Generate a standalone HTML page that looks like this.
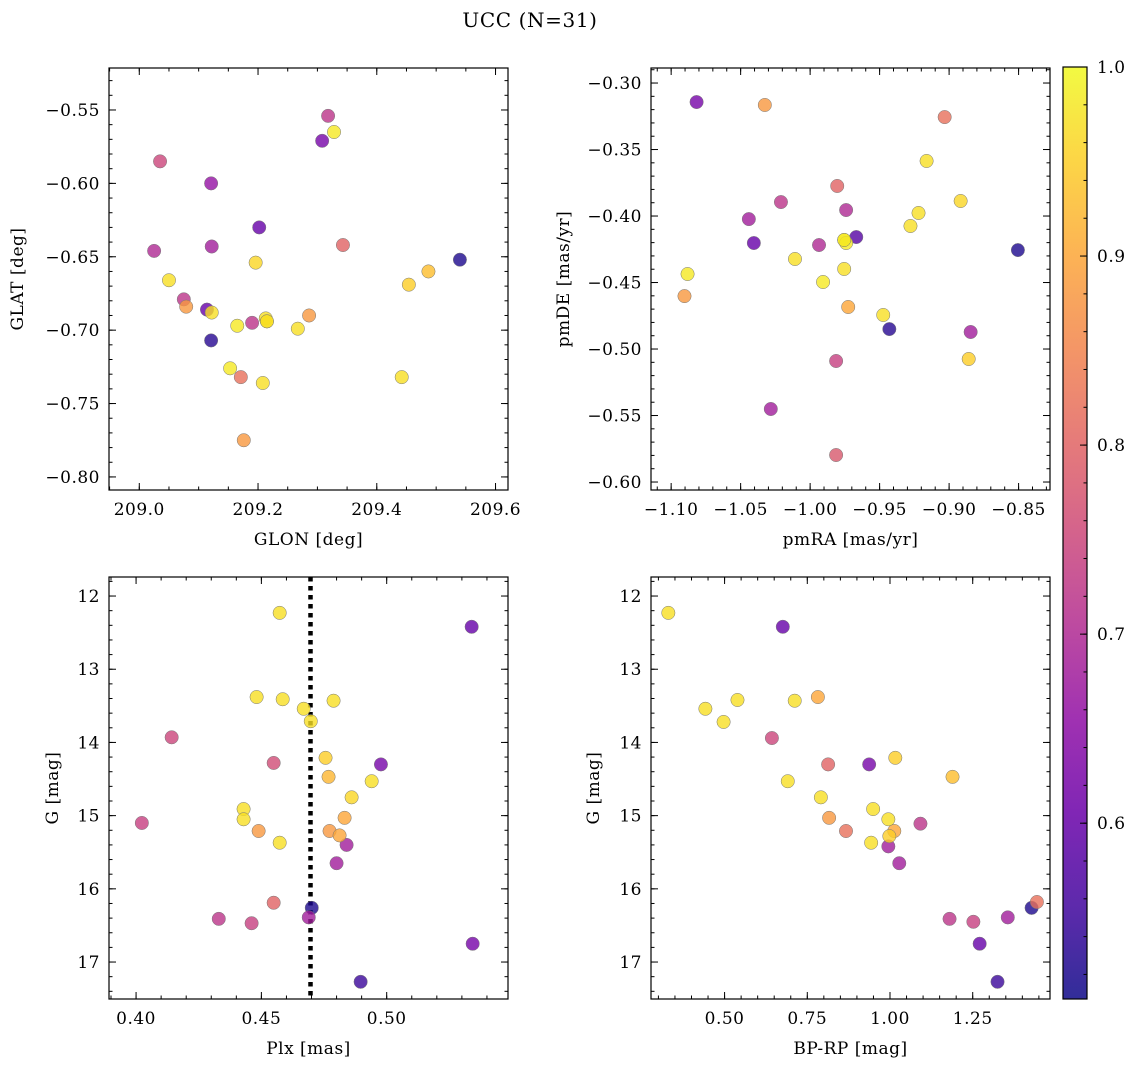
<!DOCTYPE html>
<html><head><meta charset="utf-8"><style>
html,body{margin:0;padding:0;background:#fff;}
svg{display:block;font-family:"DejaVu Serif","Liberation Serif",serif;}
</style></head><body>
<svg id="fig" width="1136" height="1067" viewBox="0 0 1136 1067" xmlns="http://www.w3.org/2000/svg">
<rect width="1136" height="1067" fill="#fff"/>
<text x="530" y="27" font-size="20" letter-spacing="0.6" text-anchor="middle">UCC (N=31)</text>
</svg>
<script>
// ---- data ----
const p1_glon = [209.318,209.328,209.308,209.035,209.121,209.202,209.122,209.343,209.540,209.025,209.050,209.196,209.454,209.487,209.075,209.114,209.079,209.122,209.286,209.213,209.215,209.165,209.190,209.267,209.121,209.153,209.171,209.442,209.208,209.176,209.215];
const p1_glat = [-0.554,-0.565,-0.571,-0.585,-0.600,-0.630,-0.643,-0.642,-0.652,-0.646,-0.666,-0.654,-0.669,-0.660,-0.679,-0.686,-0.684,-0.688,-0.690,-0.692,-0.694,-0.697,-0.695,-0.699,-0.707,-0.726,-0.732,-0.732,-0.736,-0.775,-0.694];
const p1_prob = [0.72,0.98,0.62,0.75,0.66,0.60,0.68,0.80,0.52,0.70,0.97,0.96,0.95,0.93,0.72,0.60,0.88,0.97,0.88,0.97,0.97,0.98,0.72,0.97,0.53,0.98,0.82,0.97,0.97,0.88,0.97];

const p2_pmra = [-1.0817,-1.0326,-0.9032,-0.9162,-0.9805,-0.8917,-1.0210,-0.9741,-0.9220,-1.0441,-0.9278,-1.0405,-0.9936,-0.9668,-0.9755,-0.9741,-1.0109,-1.0882,-0.9755,-0.8505,-0.9907,-1.0904,-0.9726,-0.9474,-0.9430,-0.8845,-0.8859,-0.9813,-1.0283,-0.9813,-0.9755];
const p2_pmde = [-0.3143,-0.3165,-0.3256,-0.3586,-0.3774,-0.3887,-0.3895,-0.3955,-0.3977,-0.4023,-0.4075,-0.4203,-0.4218,-0.4158,-0.4180,-0.4203,-0.4323,-0.4436,-0.4398,-0.4256,-0.4496,-0.4602,-0.4684,-0.4744,-0.4850,-0.4872,-0.5075,-0.5090,-0.5451,-0.5797,-0.4180];
const p2_prob = [0.62,0.88,0.82,0.97,0.80,0.96,0.72,0.70,0.97,0.68,0.97,0.60,0.70,0.58,0.98,0.98,0.97,0.98,0.97,0.52,0.98,0.88,0.90,0.97,0.53,0.68,0.95,0.74,0.68,0.78,0.98];

const p3_plx = [0.4573,0.5339,0.4481,0.4585,0.4788,0.4669,0.4697,0.4142,0.4756,0.4549,0.4977,0.4768,0.4940,0.4860,0.4429,0.4429,0.4832,0.4023,0.4489,0.4772,0.4812,0.4573,0.4840,0.4800,0.4549,0.4701,0.4330,0.4461,0.4689,0.5343,0.4896];
const p3_g = [12.23,12.42,13.38,13.41,13.43,13.54,13.71,13.93,14.21,14.28,14.30,14.47,14.53,14.75,14.91,15.05,15.03,15.10,15.21,15.21,15.27,15.37,15.40,15.65,16.19,16.26,16.41,16.47,16.39,16.75,17.27];
const p3_prob = [0.97,0.60,0.97,0.97,0.97,0.97,0.97,0.75,0.95,0.76,0.62,0.92,0.97,0.96,0.97,0.97,0.90,0.74,0.88,0.88,0.90,0.97,0.68,0.68,0.80,0.52,0.72,0.74,0.68,0.62,0.55];
const p3_plxLine = 0.4696;

const p4_bprp = [0.330,0.676,0.442,0.539,0.712,0.782,0.497,0.643,1.016,1.189,0.813,0.937,0.691,0.791,0.949,0.816,0.995,1.092,0.867,1.013,0.998,0.943,0.995,1.028,1.444,1.428,1.180,1.252,1.356,1.271,1.325];
const p4_g = [12.23,12.42,13.54,13.42,13.43,13.38,13.72,13.94,14.21,14.47,14.30,14.30,14.53,14.75,14.91,15.03,15.05,15.11,15.21,15.21,15.28,15.37,15.42,15.65,16.18,16.26,16.41,16.45,16.39,16.75,17.27];
const p4_prob = [0.97,0.60,0.97,0.97,0.97,0.90,0.97,0.75,0.95,0.93,0.80,0.62,0.97,0.97,0.97,0.88,0.97,0.72,0.82,0.90,0.95,0.97,0.68,0.68,0.82,0.52,0.72,0.74,0.68,0.60,0.55];

const p1_xticks = [209.0,209.2,209.4,209.6];
const p1_yticks = [-0.55,-0.60,-0.65,-0.70,-0.75,-0.80];
const p2_xticks = [-1.10,-1.05,-1.00,-0.95,-0.90,-0.85];
const p2_yticks = [-0.30,-0.35,-0.40,-0.45,-0.50,-0.55,-0.60];
const p3_xticks = [0.40,0.45,0.50];
const g_yticks = [12,13,14,15,16,17];
const p4_xticks = [0.50,0.75,1.00,1.25];
const cb_ticks = [0.6,0.7,0.8,0.9,1.0];
const vmin = 0.507, vmax = 1.0;

// ---- rendering ----
const NS = "http://www.w3.org/2000/svg";
const svg = document.getElementById('fig');
const FS = 17, LS = 0.5;
function mk(tag, attrs, parent){
  const e = document.createElementNS(NS, tag);
  for (const k in attrs) e.setAttribute(k, attrs[k]);
  (parent||svg).appendChild(e);
  return e;
}
const plasma = ['#0d0887','#41049d','#6a00a8','#8f0da4','#b12a90','#cc4778','#e16462','#f2844b','#fca636','#fcce25','#f0f921'];
function hex(h){return [parseInt(h.substr(1,2),16),parseInt(h.substr(3,2),16),parseInt(h.substr(5,2),16)];}
function cmap(v){
  let t = (v - vmin)/(vmax - vmin); t = Math.max(0, Math.min(1, t));
  const s = t*10, i = Math.min(9, Math.floor(s)), f = s - i;
  const a = hex(plasma[i]), b = hex(plasma[i+1]);
  return 'rgb(' + [0,1,2].map(k => Math.round(a[k]+(b[k]-a[k])*f)).join(',') + ')';
}
function fmt(v, d){ const s = Math.abs(v).toFixed(d); return (v < 0 ? '\u2212' : '') + s; }

function panel(cfg){
  const g = mk('g', {});
  
  
  const L=cfg.L,R=cfg.R,T=cfg.T,B=cfg.B;
  const sx = v => L + (v - cfg.x0)/(cfg.x1 - cfg.x0)*(R-L);
  const sy = v => T + (v - cfg.y0)/(cfg.y1 - cfg.y0)*(B-T);
  const tk = mk('g', {stroke:'#000','stroke-width':1}, g);
  
  
  const xmn = Math.min(cfg.x0,cfg.x1), xmx = Math.max(cfg.x0,cfg.x1);
  for (let v = Math.ceil(xmn/cfg.xminor)*cfg.xminor; v <= xmx; v += cfg.xminor){
    const x = sx(v); mk('line',{x1:x,x2:x,y1:B,y2:B-3.5},tk); mk('line',{x1:x,x2:x,y1:T,y2:T+3.5},tk);
  }
  const ymn = Math.min(cfg.y0,cfg.y1), ymx = Math.max(cfg.y0,cfg.y1);
  for (let v = Math.ceil(ymn/cfg.yminor)*cfg.yminor; v <= ymx; v += cfg.yminor){
    const y = sy(v); mk('line',{x1:L,x2:L+3.5,y1:y,y2:y},tk); mk('line',{x1:R,x2:R-3.5,y1:y,y2:y},tk);
  }
  cfg.xticks.forEach(v => {
    const x = sx(v);
    mk('line',{x1:x,x2:x,y1:B,y2:B-7},tk); mk('line',{x1:x,x2:x,y1:T,y2:T+7},tk);
    const t = mk('text',{x:x,y:B+25,'font-size':FS,'letter-spacing':LS,'text-anchor':'middle'},g);
     
    t.textContent = fmt(v, cfg.xdec);
  });
  cfg.yticks.forEach(v => {
    const y = sy(v);
    mk('line',{x1:L,x2:L+7,y1:y,y2:y},tk); mk('line',{x1:R,x2:R-7,y1:y,y2:y},tk);
    const t = mk('text',{x:L-9,y:y+6,'font-size':FS,'letter-spacing':LS,'text-anchor':'end'},g);
     
    t.textContent = fmt(v, cfg.ydec);
  });
  if (cfg.vline !== undefined){
    const x = sx(cfg.vline);
    const vl = mk('line',{x1:x,x2:x,y1:T,y2:B,stroke:'#000','stroke-width':4.5,'stroke-dasharray':'4.5,4.5'},g);
     
  }
  const idx = cfg.xs.map((_,i)=>i).sort((a,b)=>cfg.ps[a]-cfg.ps[b]);
  idx.forEach(i => {
    const c = mk('circle',{cx:sx(cfg.xs[i]),cy:sy(cfg.ys[i]),r:6.7,fill:cmap(cfg.ps[i]),'fill-opacity':0.8,stroke:'#777','stroke-width':0.5},g);
    
    
  });
  const fr = mk('rect',{x:L,y:T,width:R-L,height:B-T,fill:'none',stroke:'#000','stroke-width':1.2},g);
   
  const xl = mk('text',{x:(L+R)/2,y:B+55,'font-size':FS,'letter-spacing':LS,'text-anchor':'middle'},g);
   
  xl.textContent = cfg.xlabel;
  const yl = mk('text',{x:cfg.ylx,y:(T+B)/2,'font-size':FS,'letter-spacing':LS,'text-anchor':'middle',transform:'rotate(-90 '+cfg.ylx+' '+(T+B)/2+')'},g);
   
  yl.textContent = cfg.ylabel;
}

panel({name:'glon-glat-panel',L:109,R:508,T:68,B:490,x0:208.949,x1:209.621,y0:-0.5214,y1:-0.8089,xs:p1_glon,ys:p1_glat,ps:p1_prob,xticks:p1_xticks,yticks:p1_yticks,xdec:1,ydec:2,xminor:0.05,yminor:0.01,xlabel:'GLON [deg]',ylabel:'GLAT [deg]',ylx:23});
panel({name:'proper-motion-panel',L:651,R:1050,T:68,B:490,x0:-1.1145,x1:-0.8274,y0:-0.2887,y1:-0.6060,xs:p2_pmra,ys:p2_pmde,ps:p2_prob,xticks:p2_xticks,yticks:p2_yticks,xdec:2,ydec:2,xminor:0.01,yminor:0.01,xlabel:'pmRA [mas/yr]',ylabel:'pmDE [mas/yr]',ylx:569});
panel({name:'plx-g-panel',L:109,R:508,T:577,B:999,x0:0.3892,x1:0.5484,y0:11.74,y1:17.505,xs:p3_plx,ys:p3_g,ps:p3_prob,xticks:p3_xticks,yticks:g_yticks,xdec:2,ydec:0,xminor:0.01,yminor:0.2,xlabel:'Plx [mas]',ylabel:'G [mag]',ylx:58,vline:p3_plxLine});
panel({name:'cmd-panel',L:651,R:1050,T:577,B:999,x0:0.2776,x1:1.4836,y0:11.74,y1:17.505,xs:p4_bprp,ys:p4_g,ps:p4_prob,xticks:p4_xticks,yticks:g_yticks,xdec:2,ydec:0,xminor:0.05,yminor:0.2,xlabel:'BP-RP [mag]',ylabel:'G [mag]',ylx:599});

// colorbar
const cbL=1063, cbR=1087, cbT=67, cbB=999;
const defs = mk('defs',{});
const lg = mk('linearGradient',{id:'cbg',x1:0,y1:1,x2:0,y2:0},defs);
for (let k=0;k<=20;k++){ const v = vmin + (vmax-vmin)*k/20; mk('stop',{offset:(k/20),'stop-color':cmap(v),'stop-opacity':0.85},lg); }
const cb = mk('g',{});
 
mk('rect',{x:cbL,y:cbT,width:cbR-cbL,height:cbB-cbT,fill:'url(#cbg)',stroke:'#000','stroke-width':1.2},cb);
const cy = v => cbB - (v - vmin)/(vmax - vmin)*(cbB - cbT);
for (let v = 0.52; v <= 1.0001; v += 0.02){ const y = cy(v); mk('line',{x1:cbR,x2:cbR-3.5,y1:y,y2:y,stroke:'#000'},cb); }
cb_ticks.forEach(v => {
  const y = cy(v);
  mk('line',{x1:cbR,x2:cbR-7,y1:y,y2:y,stroke:'#000'},cb);
  const t = mk('text',{x:cbR+10,y:y+6,'font-size':FS,'letter-spacing':LS},cb);
   
  t.textContent = v.toFixed(1);
});
</script>
</body></html>
